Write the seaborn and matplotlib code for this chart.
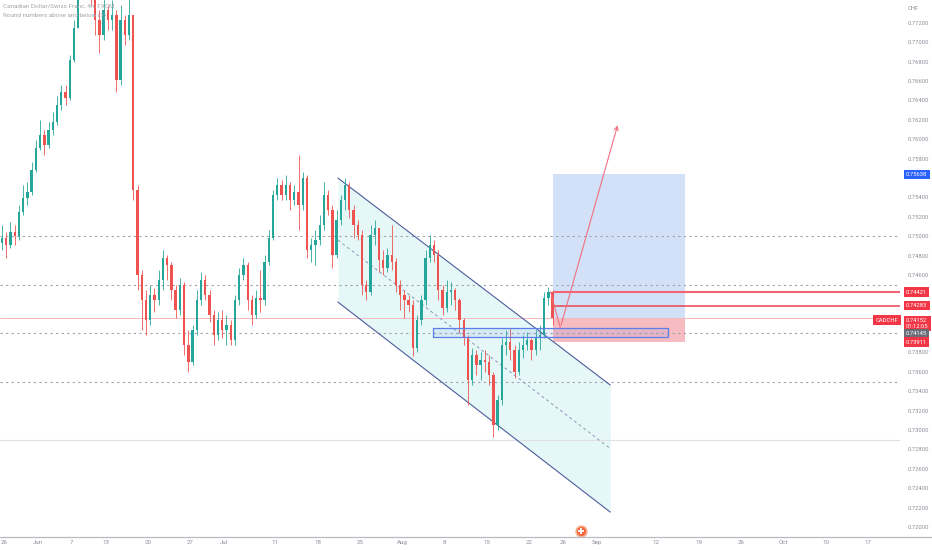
import numpy as np
import matplotlib
matplotlib.use("Agg")
import matplotlib.pyplot as plt
from matplotlib.lines import Line2D
import seaborn as sns

first_open = 0.74930
closes = [0.74981, 0.74909, 0.75043, 0.75002, 0.75249, 0.75394, 0.75456, 0.75683, 0.75910, 0.76044,
          0.75941, 0.76095, 0.76178, 0.76353, 0.76488, 0.76426, 0.76818, 0.77148, 0.77592, 0.77695,
          0.77643, 0.77540, 0.77231, 0.77076, 0.77334, 0.77231, 0.77282, 0.76611, 0.77231, 0.77076,
          0.77282, 0.75476, 0.74599, 0.74341, 0.74135, 0.74393, 0.74341, 0.74547, 0.74774, 0.74702,
          0.74444, 0.74238, 0.74496, 0.73877, 0.73701, 0.74031, 0.74341, 0.74547, 0.74393, 0.74186,
          0.73980, 0.74135, 0.74031, 0.74083, 0.73929, 0.74341, 0.74599, 0.74702, 0.74341, 0.74186,
          0.74362, 0.74341, 0.74733, 0.74981, 0.75425, 0.75528, 0.75425, 0.75528, 0.75373, 0.75456,
          0.75321, 0.75600, 0.74857, 0.74909, 0.74960, 0.75115, 0.75425, 0.75270, 0.74805, 0.75167,
          0.75373, 0.75528, 0.75270, 0.75115, 0.75012, 0.74496, 0.74424, 0.75012, 0.75084, 0.74754,
          0.74671, 0.74805, 0.74733, 0.74496, 0.74393, 0.74341, 0.74289, 0.73846, 0.74135, 0.74341,
          0.74774, 0.74909, 0.74805, 0.74444, 0.74258, 0.74424, 0.74444, 0.74341, 0.74135, 0.73949,
          0.73516, 0.73773, 0.73670, 0.73722, 0.73701, 0.73567, 0.73051, 0.73309, 0.73877, 0.73908,
          0.73825, 0.73598, 0.73825, 0.73877, 0.73929, 0.73825, 0.73949, 0.73980, 0.74362, 0.74424,
          0.74152]
highs = [0.75115, 0.75043, 0.75146, 0.75115, 0.75321, 0.75528, 0.75559, 0.75765, 0.75992, 0.76199,
         0.76095, 0.76178, 0.76281, 0.76446, 0.76560, 0.76560, 0.76869, 0.77231, 0.77747, 0.77850,
         0.77850, 0.77747, 0.77540, 0.77334, 0.77489, 0.77385, 0.77437, 0.77334, 0.77385, 0.77282,
         0.77540, 0.77282, 0.75528, 0.74651, 0.74444, 0.74496, 0.74465, 0.74651, 0.74857, 0.74805,
         0.74733, 0.74496, 0.74568, 0.74527, 0.74031, 0.74083, 0.74444, 0.74630, 0.74599, 0.74444,
         0.74238, 0.74217, 0.74238, 0.74186, 0.74135, 0.74393, 0.74671, 0.74774, 0.74733, 0.74393,
         0.74444, 0.74651, 0.74805, 0.75063, 0.75476, 0.75600, 0.75579, 0.75631, 0.75559, 0.75528,
         0.75837, 0.75662, 0.75631, 0.74981, 0.75063, 0.75218, 0.75559, 0.75476, 0.75321, 0.75270,
         0.75425, 0.75600, 0.75559, 0.75321, 0.75167, 0.75063, 0.74547, 0.75115, 0.75167, 0.75084,
         0.74857, 0.74878, 0.75115, 0.74774, 0.74547, 0.74444, 0.74393, 0.74341, 0.74186, 0.74393,
         0.74857, 0.75012, 0.74960, 0.74857, 0.74496, 0.74547, 0.74527, 0.74465, 0.74362, 0.74155,
         0.73980, 0.73846, 0.73825, 0.73805, 0.73825, 0.73773, 0.73598, 0.73361, 0.73949, 0.74031,
         0.74052, 0.73877, 0.73908, 0.73980, 0.74011, 0.73949, 0.74031, 0.74083, 0.74424, 0.74475,
         0.74444]
lows = [0.74857, 0.74774, 0.74878, 0.74909, 0.74960, 0.75218, 0.75321, 0.75425, 0.75662, 0.75889,
        0.75837, 0.75910, 0.76044, 0.76147, 0.76302, 0.76353, 0.76405, 0.76797, 0.77334, 0.77489,
        0.77489, 0.77385, 0.77076, 0.76890, 0.77024, 0.77127, 0.77127, 0.76488, 0.76560, 0.76973,
        0.77024, 0.75373, 0.74444, 0.74031, 0.73980, 0.74083, 0.74217, 0.74289, 0.74444, 0.74547,
        0.74341, 0.74155, 0.74186, 0.73773, 0.73598, 0.73670, 0.73980, 0.74289, 0.74341, 0.74114,
        0.73877, 0.73929, 0.73949, 0.73877, 0.73877, 0.73877, 0.74289, 0.74547, 0.74238, 0.74083,
        0.74155, 0.74217, 0.74289, 0.74702, 0.74960, 0.75373, 0.75373, 0.75373, 0.75270, 0.75321,
        0.75063, 0.75270, 0.74774, 0.74733, 0.74702, 0.74909, 0.75063, 0.75218, 0.74671, 0.74774,
        0.75115, 0.75270, 0.75187, 0.74981, 0.74960, 0.74393, 0.74341, 0.74393, 0.74909, 0.74630,
        0.74599, 0.74630, 0.74651, 0.74424, 0.74238, 0.74155, 0.74217, 0.73763, 0.73805, 0.74083,
        0.74289, 0.74733, 0.74733, 0.74341, 0.74186, 0.74217, 0.74289, 0.74238, 0.74011, 0.73877,
        0.73257, 0.73464, 0.73567, 0.73516, 0.73598, 0.73464, 0.72927, 0.72999, 0.73257, 0.73773,
        0.73722, 0.73536, 0.73567, 0.73743, 0.73825, 0.73722, 0.73773, 0.73825, 0.73949, 0.74289,
        0.74083]

tick_dates = ["2022-05-26", "2022-06-01", "2022-06-07", "2022-06-13", "2022-06-20", "2022-06-27",
              "2022-07-01", "2022-07-11", "2022-07-18", "2022-07-25", "2022-08-01", "2022-08-08",
              "2022-08-15", "2022-08-22", "2022-08-26", "2022-09-01", "2022-09-12", "2022-09-19",
              "2022-09-26", "2022-10-03", "2022-10-10", "2022-10-17"]
tick_labels = ["26", "Jun", "7", "13", "20", "27", "Jul", "11", "18", "25", "Aug", "8",
               "15", "22", "26", "Sep", "12", "19", "26", "Oct", "10", "17"]

price_ticks = [0.720, 0.722, 0.724, 0.726, 0.728, 0.730, 0.732, 0.734, 0.736, 0.738,
               0.746, 0.748, 0.750, 0.752, 0.754, 0.758, 0.760, 0.762,
               0.764, 0.766, 0.768, 0.770, 0.772]

round_levels = [0.750, 0.745, 0.740, 0.735]
solid_level = 0.7290
last_price = 0.74152

# drawings (x in candle units, y in price)
channel_x = [79.3, 143.6]
channel_upper = [0.75600, 0.73464]
channel_lower = [0.74320, 0.72153]
channel_mid = [0.74960, 0.72809]

zone_x = [101.8, 157.3]
zone_y = [0.73959, 0.74052]

pos_x = [130.0, 161.3]
pos_entry = 0.74152
pos_target = 0.75638
pos_stop = 0.73911

level_a = 0.74421
level_b = 0.74283

arrow_x = [129.5, 131.8, 145.5]
arrow_y = [0.74427, 0.74055, 0.76171]

event_x = 136.7
event_y = 0.71960

# ---------------- figure ----------------
sns.set_theme(style="white")
plt.rcParams["font.family"] = ["Roboto", "DejaVu Sans"]

fig = plt.figure(figsize=(9.32, 5.5), dpi=100)
fig.patch.set_facecolor("white")
ax = fig.add_axes([0.0, 13 / 550, 900 / 932, 1 - 13 / 550])
ax.set_facecolor("white")

x_min, x_max = -0.47, 212.0
y_min, y_max = 0.71896, 0.77437
ax.set_xlim(x_min, x_max)
ax.set_ylim(y_min, y_max)

# horizontal reference lines
for lv in round_levels:
    ax.axhline(lv, color="#9ea2ab", lw=0.8, ls=(0, (2, 3)), zorder=1)
ax.axhline(solid_level, color="#e0e0e3", lw=0.8, zorder=1)
ax.axhline(last_price, color="#f7b8be", lw=0.7, zorder=1)

# channel
ax.fill_between(channel_x, channel_lower, channel_upper, color="#e6f7f8", zorder=0.5, lw=0)
ax.plot(channel_x, channel_upper, color="#4d5d9c", lw=0.8, zorder=2)
ax.plot(channel_x, channel_lower, color="#4d5d9c", lw=0.8, zorder=2)
ax.plot(channel_x, channel_mid, color="#8a96b8", lw=0.7, ls=(0, (3, 3)), zorder=2)

# long position
ax.fill_between(pos_x, pos_entry, pos_target, color="#d3e1f8", lw=0, zorder=0.6)
ax.fill_between(pos_x, pos_stop, pos_entry, color="#f6bcc1", lw=0, zorder=0.6)

# candles
n = len(closes)
xs = np.arange(n)
c = np.array(closes)
o = np.array([first_open] + closes[:-1])
h = np.maximum(np.array(highs), np.maximum(o, c))
l = np.minimum(np.array(lows), np.minimum(o, c))
up = c >= o
col = np.where(up, "#26a69a", "#ef5350")
ax.vlines(xs, l, h, colors=col, lw=0.6, zorder=3)
body_h = np.where(np.abs(c - o) < 0.00004, 0.00004, np.abs(c - o))
ax.bar(xs, body_h, bottom=np.minimum(o, c), width=0.55, color=col, lw=0, zorder=3.1)

# zone rectangle
ax.fill_between(zone_x, zone_y[0], zone_y[1], color="#5b7fe6", alpha=0.12, lw=0, zorder=3.5)
ax.plot([zone_x[0], zone_x[1], zone_x[1], zone_x[0], zone_x[0]],
        [zone_y[0], zone_y[0], zone_y[1], zone_y[1], zone_y[0]], color="#5b7fe6", lw=0.9, zorder=3.6)

# red levels
ax.plot([pos_x[0], x_max], [level_a, level_a], color="#f26473", lw=1.5, zorder=4, solid_capstyle="butt")
ax.plot([pos_x[0], x_max], [level_b, level_b], color="#e8454f", lw=1.1, zorder=4, solid_capstyle="butt")

# projection arrow
ax.plot(arrow_x[:2], arrow_y[:2], color="#f0707e", lw=0.8, zorder=4)
ax.annotate("", xy=(arrow_x[2], arrow_y[2]), xytext=(arrow_x[1], arrow_y[1]),
            arrowprops=dict(arrowstyle="->", color="#f0707e", lw=0.8, mutation_scale=7), zorder=4)

# event icon
ax.scatter([event_x], [event_y], s=60, color="#f0653c", edgecolor="#f9b394", lw=1.2, zorder=6, clip_on=False)
ax.scatter([event_x], [event_y], s=18, marker="+", color="white", lw=1.3, zorder=7, clip_on=False)

# axes styling
for sp in ["top", "left", "right", "bottom"]:
    ax.spines[sp].set_visible(False)
fig.add_artist(Line2D([0, 1], [13 / 550, 13 / 550], color="#b8bbc2", lw=0.9))

tick_pos = 2 * np.busday_count("2022-05-26", np.array(tick_dates, dtype="datetime64[D]")) + 0.5
ax.set_xticks(tick_pos)
ax.set_xticklabels(tick_labels)
ax.tick_params(axis="x", length=0, pad=2.5, labelsize=4.4, labelcolor="#8d909a")

ax.yaxis.tick_right()
ax.set_yticks(price_ticks)
ax.set_yticklabels([f"{p:.5f}" for p in price_ticks])
ax.tick_params(axis="y", length=0, pad=5.8, labelsize=4.2, labelcolor="#8d909a")
ax.grid(False)

# colored price labels on scale
ytr = ax.get_yaxis_transform()
FS = 4.2
def scale_label(price, text, bg, fg="white"):
    ax.text(1.0067, price, text, transform=ytr, ha="left", va="center", fontsize=FS, color=fg,
            bbox=dict(boxstyle="square,pad=0.4", fc=bg, ec="none"), clip_on=False, zorder=10)

scale_label(0.75638, "0.75638", "#2962ff")
scale_label(0.74421, "0.74421", "#f23645")
scale_label(0.74283, "0.74283", "#f23645")
ax.text(1.0067, 0.74100, "0.74152\n01:12:05", transform=ytr, ha="left", va="center", fontsize=FS,
        color="white", linespacing=1.05,
        bbox=dict(boxstyle="square,pad=0.35", fc="#f23645", ec="none"), clip_on=False, zorder=10)
ax.text(0.998, 0.74135, "CADCHF", transform=ytr, ha="right", va="center", fontsize=FS, color="white",
        bbox=dict(boxstyle="square,pad=0.4", fc="#f23645", ec="none"), clip_on=False, zorder=10)
scale_label(0.73992, "0.74145", "#6a6d78")
scale_label(0.73905, "0.73911", "#f23645")

fig.text(908 / 932, 1 - 8 / 550, "CHF", fontsize=4.2, color="#8d909a", ha="left", va="center")

# legend text
fig.text(3 / 932, 1 - 6 / 550, "Canadian Dollar/Swiss Franc, 4h, FXCM", fontsize=4.6,
         color="#a3a6ae", ha="left", va="center")
fig.text(3 / 932, 1 - 15 / 550, "Round numbers above and below (3)", fontsize=4.6,
         color="#a3a6ae", ha="left", va="center")

fig.savefig("out.png", dpi=100, facecolor="white")
